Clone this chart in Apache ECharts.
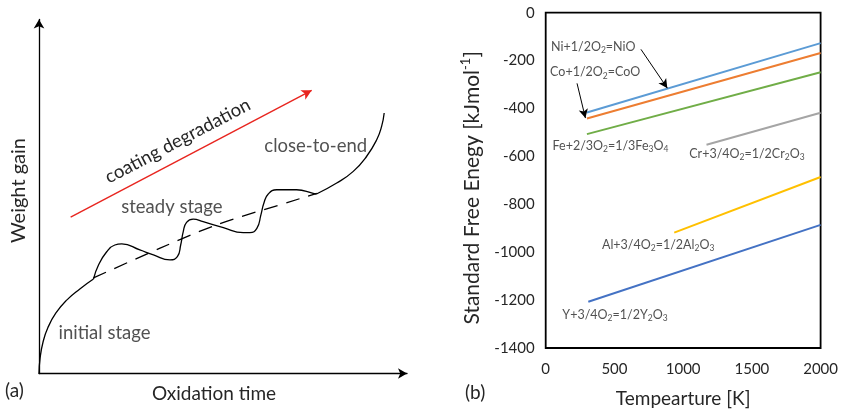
<!DOCTYPE html>
<html>
<head>
<meta charset="utf-8">
<script src="https://cdn.jsdelivr.net/npm/echarts@6/dist/echarts.min.js"></script>
<style>
  html, body { margin: 0; padding: 0; background: #fff; }
  #chart { width: 841px; height: 413px; }
</style>
</head>
<body>
<div id="chart"></div>
<script>
// ---------- (a) schematic weight-gain curve, arbitrary units 0–100 ----------
// initial parabolic-like stage
const gainInitial = [
  [0, 0], [0.3, 4.4], [1.1, 8.9], [2.4, 12.9], [4.6, 17.1], [7.6, 20.8],
  [11.1, 23.9], [14.8, 26.7]
];
// steady stage: repeated breakaway / healing oscillations
const gainSteady = [
  [14.8, 26.7], [16.2, 30.7], [18.4, 34.4], [20.6, 36.3], [22.5, 36.6],
  [27.4, 34.9], [31.1, 33.5], [35.6, 32.1], [37.6, 33.0], [38.5, 36.3],
  [39.2, 40.1], [40.1, 42.7], [41.9, 43.6], [44.6, 42.9], [50.1, 41.2],
  [55.5, 39.8], [57.3, 39.8], [59.2, 41.0], [60.3, 44.8], [61.1, 48.1],
  [62.3, 50.7], [64.6, 51.9], [70.0, 51.9], [74.5, 50.9], [75.4, 50.7]
];
// close-to-end: accelerating gain
const gainFinal = [
  [75.4, 50.7], [80.9, 53.8], [85.4, 57.1], [89.0, 61.3], [91.8, 66.1],
  [93.1, 69.8], [93.8, 73.6]
];
const trendLine = [[14.8, 27.0], [32.9, 35.4], [48.3, 42.0], [70.9, 49.4], [75.5, 50.9]];
const degradationArrow = [[8.6, 44.2], [74.1, 80.0]];
const stageNames = ['initial stage', 'steady stage', 'close-to-end'];
const stageAnchors = [[17.8, 11.5], [36.1, 47.1], [75.2, 64.2]];

// ---------- (b) standard free energy of oxide formation ----------
const tempRange = [0, 2000];
const energyRange = [-1400, 0];
const reactions = ['Ni+1/2O_2=NiO', 'Co+1/2O_2=CoO', 'Fe+2/3O_2=1/3Fe_3O_4',
                   'Cr+3/4O_2=1/2Cr_2O_3', 'Al+3/4O_2=1/2Al_2O_3', 'Y+3/4O_2=1/2Y_2O_3'];
const niO   = [[300, -417], [2000, -127]];
const coO   = [[300, -442], [2000, -168]];
const fe3O4 = [[300, -507], [2000, -249]];
const cr2O3 = [[1170, -551], [2000, -418]];
const al2O3 = [[935, -918], [2000, -686]];
const y2O3  = [[310, -1207], [2000, -886]];
const reactionLines = [niO, coO, fe3O4, cr2O3, al2O3, y2O3];
const lineColors = ['#5B9BD5', '#ED7D31', '#70AD47', '#A5A5A5', '#FFC000', '#4472C4'];
const reactionAnchors = [[346, -141], [360, -249], [471, -555], [1464, -589], [818, -969], [504, -1260]];
const pointerArrows = [
  [[693, -153], [885, -315]],
  [[228, -295], [289, -440]]
];

const FONT = 'Lato';
const INK = '#262626';

// turn "Fe_3O_4" style notation into rich-text tokens with subscripts
function chem(str) {
  return str.replace(/_(\d)/g, '\u0000$1\u0001')
    .split(/(\u0000\d\u0001)/)
    .filter(s => s.length)
    .map(s => s[0] === '\u0000' ? '{s|' + s[1] + '}' : '{n|' + s + '}')
    .join('');
}
const chemRich = {
  n: { fontFamily: FONT, fontSize: 12.5, color: INK, lineHeight: 16 },
  s: { fontFamily: FONT, fontSize: 8.5, color: INK, lineHeight: 10, verticalAlign: 'bottom' }
};

const stageText = { fontFamily: FONT, fontSize: 18.5, color: INK };
const plainNumber = v => String(v);
const curveStyle = { color: '#000', width: 1.3 };

function curveSeries(data, extra) {
  return Object.assign({
    type: 'line', xAxisIndex: 0, yAxisIndex: 0, data: data,
    smooth: 0.5, showSymbol: false, symbol: 'none', silent: true,
    lineStyle: curveStyle
  }, extra || {});
}

const chart = echarts.init(document.getElementById('chart'), null, { renderer: 'canvas' });

chart.setOption({
  animation: false,
  backgroundColor: '#fff',
  title: [
    { text: '(a)', left: 5, top: 381, textStyle: { fontFamily: FONT, fontSize: 19, fontWeight: 'normal', color: INK }, padding: 0 },
    { text: '(b)', left: 465, top: 383, textStyle: { fontFamily: FONT, fontSize: 19, fontWeight: 'normal', color: INK }, padding: 0 }
  ],
  grid: [
    { left: 39, top: 19.5, width: 368, height: 354, show: false },
    { left: 545.7, top: 12.7, width: 277, height: 338, show: true, borderColor: '#000', borderWidth: 1.8 }
  ],
  xAxis: [
    {
      gridIndex: 0, type: 'value', min: 0, max: 100,
      axisLine: { show: true, onZero: false, symbol: ['none', 'arrow'], symbolSize: [8, 9],
                  lineStyle: { color: '#000', width: 1.3 } },
      axisTick: { show: false }, axisLabel: { show: false }, splitLine: { show: false },
      name: 'Oxidation time', nameLocation: 'middle', nameGap: 11,
      nameTextStyle: { fontFamily: FONT, fontSize: 19, color: INK, padding: [0, 18, 0, 0] }
    },
    {
      gridIndex: 1, type: 'value', min: tempRange[0], max: tempRange[1], interval: 500,
      axisLine: { show: false }, axisTick: { show: false }, splitLine: { show: false },
      axisLabel: { margin: 14, fontFamily: FONT, fontSize: 15, color: INK, formatter: plainNumber },
      name: 'Tempearture [K]', nameLocation: 'middle', nameGap: 41,
      nameTextStyle: { fontFamily: FONT, fontSize: 19, color: INK }
    }
  ],
  yAxis: [
    {
      gridIndex: 0, type: 'value', min: 0, max: 100,
      axisLine: { show: true, onZero: false, symbol: ['none', 'arrow'], symbolSize: [8, 9],
                  lineStyle: { color: '#000', width: 1.3 } },
      axisTick: { show: false }, axisLabel: { show: false }, splitLine: { show: false },
      name: 'Weight gain', nameLocation: 'middle', nameGap: 10, nameRotate: 90,
      nameTextStyle: { fontFamily: FONT, fontSize: 20, color: INK, padding: [0, 0, 0, 12] }
    },
    {
      gridIndex: 1, type: 'value', min: energyRange[0], max: energyRange[1], interval: 200,
      axisLine: { show: false }, axisTick: { show: false }, splitLine: { show: false },
      axisLabel: { margin: 11, fontFamily: FONT, fontSize: 15, color: INK, formatter: plainNumber },
      name: '{t|Standard Free Enegy [kJmol}{p|-1}{t|]}', nameLocation: 'middle', nameGap: 61, nameRotate: 90,
      nameTextStyle: {
        padding: [0, 15, 0, 0],
        rich: {
          t: { fontFamily: FONT, fontSize: 21, color: INK, lineHeight: 25 },
          p: { fontFamily: FONT, fontSize: 13, color: INK, lineHeight: 15, verticalAlign: 'top' }
        }
      }
    }
  ],
  series: [
    curveSeries(gainInitial),
    curveSeries(gainSteady, {
      markLine: {
        silent: true, symbol: ['none', 'arrow'], symbolSize: [8, 10],
        lineStyle: { color: '#E8251F', width: 1.4, type: 'solid' },
        label: {
          show: true, position: 'insideMiddleTop', distance: 8, padding: [0, 12, 0, 0],
          formatter: 'coating degradation', fontFamily: FONT, fontSize: 18.5, color: INK
        },
        emphasis: { disabled: true },
        data: [[{ coord: degradationArrow[0] }, { coord: degradationArrow[1] }]]
      }
    }),
    curveSeries(gainFinal),
    {
      type: 'line', xAxisIndex: 0, yAxisIndex: 0, data: trendLine,
      smooth: 0.3, showSymbol: false, symbol: 'none', silent: true,
      lineStyle: { color: '#000', width: 1.3, type: [14, 9] }
    },
    {
      type: 'scatter', xAxisIndex: 0, yAxisIndex: 0, symbolSize: 0, silent: true,
      data: stageNames.map((n, i) => ({ name: n, value: stageAnchors[i] })),
      label: { show: true, position: 'inside', formatter: p => p.name, ...stageText }
    },
    ...reactionLines.map((pts, i) => ({
      type: 'line', xAxisIndex: 1, yAxisIndex: 1, data: pts, name: reactions[i],
      showSymbol: false, symbol: 'none', silent: true,
      lineStyle: { color: lineColors[i], width: 2 }
    })),
    {
      type: 'scatter', xAxisIndex: 1, yAxisIndex: 1, symbolSize: 0, silent: true,
      data: reactions.map((n, i) => ({ name: n, value: reactionAnchors[i] })),
      label: { show: true, position: 'inside', formatter: p => chem(p.name), rich: chemRich },
      markLine: {
        silent: true, symbol: ['none', 'arrow'], symbolSize: [7, 9],
        lineStyle: { color: '#000', width: 1, type: 'solid' },
        label: { show: false }, emphasis: { disabled: true },
        data: pointerArrows.map(a => [{ coord: a[0] }, { coord: a[1] }])
      }
    }
  ]
});
</script>
</body>
</html>
